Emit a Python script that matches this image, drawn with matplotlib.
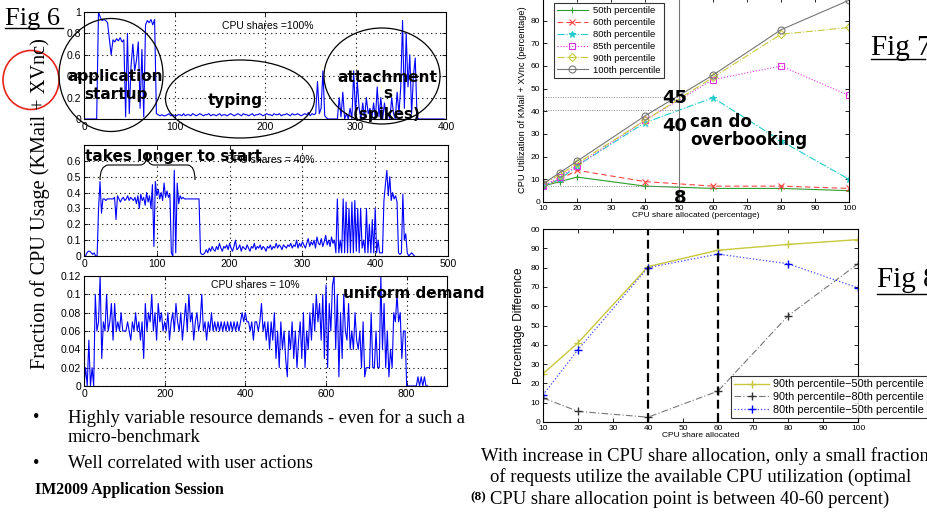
import numpy as np
import matplotlib
matplotlib.use('Agg')
import matplotlib.pyplot as plt
from matplotlib.patches import Ellipse, PathPatch
from matplotlib.path import Path
from matplotlib.lines import Line2D

# ---------------- DATA ----------------
# Fig 6 top: CPU shares = 100%  (sample every 2 s)
cpu100_step = 2
cpu100 = ([0, 0, 0, 0, 0, 0, 0, 0] +
          [1.0, 0.95, 0.92, 0.93, 0.92, 0.9, 0.75, 0.6, 0.74, 0.72, 0.75, 0.73, 0.76, 0.72, 0.74,
           0.02, 0.8, 0.05, 0.5, 0.7, 0.45, 0.55, 0.72, 0.1, 0.65, 0.02, 0.88, 0.92, 0.9, 0.93,
           0.88, 0.93, 0.05] +
          [0.04, 0.03, 0.04, 0.03, 0.03, 0.04, 0.05, 0.03, 0.04, 0.03,
           0.03, 0.04, 0.04, 0.03, 0.05, 0.03, 0.04, 0.04, 0.03, 0.05,
           0.04, 0.03, 0.04, 0.05, 0.04, 0.03, 0.04, 0.04, 0.05, 0.03,
           0.04, 0.04, 0.03, 0.04, 0.05, 0.03, 0.04, 0.04, 0.03, 0.04,
           0.05, 0.04, 0.03, 0.04, 0.05, 0.04, 0.03, 0.05, 0.04, 0.04,
           0.03, 0.04, 0.05, 0.03, 0.04, 0.04, 0.05, 0.04, 0.03, 0.04,
           0.05, 0.04, 0.04, 0.03, 0.05, 0.04, 0.04, 0.05, 0.03, 0.04,
           0.04, 0.05, 0.04, 0.03, 0.05, 0.04, 0.04, 0.05, 0.04, 0.03,
           0.04, 0.05, 0.04, 0.06, 0.03, 0.05, 0.04] +
          [0.05, 0.35, 0.05, 0.1, 0.45, 0.03, 0.01, 0, 0, 0, 0, 0, 0, 0.2, 0.02, 0.25, 0, 0.05,
           0, 0.1, 0, 0.45, 0.05, 0.35, 0.1, 0, 0.15, 0, 0.2, 0.05, 0.1, 0, 0.15, 0, 0.3, 0.02,
           0.2, 0, 0.15, 0, 0.05, 0, 0.2, 0.05, 0, 0.25, 0.05, 0.3, 0.92, 0.1, 0.8, 0.3, 0.6,
           0.05, 0.4, 0.57, 0.02] +
          [0] * 15)

# Fig 6 middle: CPU shares = 40%  (sample every 2 s)
cpu40_step = 2
cpu40 = ([0, 0, 0.02, 0.03, 0.03, 0.02, 0.01, 0.02, 0, 0] +
         [0.3, 0.47, 0.27, 0.36, 0.36, 0.35, 0.36, 0.36, 0.36, 0.36,
          0.36, 0.37, 0.23, 0.38, 0.36, 0.34, 0.36, 0.37, 0.35, 0.36,
          0.38, 0.35, 0.37, 0.36, 0.35, 0.37, 0.33, 0.38, 0.3, 0.39,
          0.35, 0.37, 0.32, 0.4, 0.34, 0.38, 0.3, 0.45] +
         [0.06, 0.47, 0.38, 0.42, 0.36, 0.4, 0.35, 0.46, 0.37, 0.41,
          0.37, 0.39, 0.02, 0.0, 0.54, 0.02, 0.46, 0.33, 0.38, 0.36,
          0.37, 0.36, 0.36, 0.36, 0.36, 0.36, 0.36, 0.36, 0.36, 0.36, 0.36, 0.36] +
         [0.02, 0.01, 0.01, 0.02, 0.04, 0.02, 0.05, 0.03, 0.06, 0.04,
          0.03, 0.06, 0.04, 0.08, 0.05, 0.03, 0.06, 0.05, 0.07, 0.04,
          0.08, 0.05, 0.03, 0.06, 0.1, 0.04, 0.05, 0.07, 0.03, 0.06,
          0.05, 0.04, 0.07, 0.05, 0.03, 0.06, 0.05, 0.08, 0.04, 0.06,
          0.05, 0.07, 0.04, 0.06, 0.05, 0.03, 0.06, 0.05, 0.07, 0.04,
          0.06, 0.05, 0.08, 0.05, 0.07, 0.06, 0.04, 0.07, 0.06, 0.05,
          0.07, 0.06, 0.08, 0.05, 0.07, 0.06, 0.1, 0.05, 0.08, 0.06,
          0.09, 0.07, 0.05, 0.08, 0.11, 0.06, 0.09, 0.07, 0.1, 0.05,
          0.12, 0.08, 0.07, 0.11, 0.06, 0.09, 0.13, 0.07, 0.1, 0.06,
          0.12, 0.08, 0.1] +
         [0.02, 0.36, 0.02, 0.1, 0.02, 0.36, 0.02, 0.34, 0.02, 0.3,
          0.02, 0.34, 0.02, 0.35, 0.03, 0.3, 0.02, 0.3, 0.05, 0.1,
          0.02, 0.3, 0.02, 0.2, 0.02, 0.23, 0.02, 0.3, 0.02, 0.1,
          0.02, 0.02, 0.02, 0.35, 0.45, 0.54, 0.38, 0.5, 0.35, 0.4,
          0.36, 0.38, 0.34, 0.02, 0.01, 0.02, 0.39, 0.1, 0.14, 0.02,
          0.0, 0.01, 0.02, 0.01, 0.0])

# Fig 6 bottom: CPU shares = 10%  (sample every 4 s)
cpu10_step = 4
cpu10 = [0, 0.02, 0, 0.05, 0, 0.02, 0, 0.1, 0.06, 0.07,
         0.12, 0.03, 0.07, 0.06, 0.1, 0.06, 0.07, 0.09, 0.05, 0.09,
         0.06, 0.07, 0.06, 0.08, 0.06, 0.06, 0.06, 0.07, 0.06, 0.05,
         0.07, 0.06, 0.08, 0.06, 0.07, 0.05, 0.07, 0.03, 0.09, 0.06,
         0.08, 0.07, 0.1, 0.06, 0.08, 0.05, 0.09, 0.07, 0.08, 0.06,
         0.07, 0.06, 0.08, 0.05, 0.07, 0.08, 0.06, 0.09, 0.07, 0.06,
         0.08, 0.05, 0.07, 0.09, 0.06, 0.1, 0.07, 0.08, 0.05, 0.07,
         0.08, 0.06, 0.07, 0.1, 0.06, 0.07, 0.05, 0.07, 0.06, 0.08,
         0.06, 0.07, 0.06, 0.07, 0.06, 0.07, 0.06, 0.07, 0.06, 0.07,
         0.06, 0.07, 0.06, 0.07, 0.06, 0.07, 0.06, 0.07, 0.08, 0.07,
         0.08, 0.07, 0.07, 0.06, 0.07, 0.05, 0.07, 0.07, 0.06, 0.07,
         0.09, 0.06, 0.07, 0.05, 0.07, 0.04, 0.07, 0.05, 0.08, 0.03,
         0.06, 0.02, 0.07, 0.04, 0.06, 0.03, 0.01, 0.06, 0.04, 0.07,
         0.03, 0.06, 0.02, 0.05, 0.07, 0.03, 0.08, 0.02, 0.06, 0.04,
         0.08, 0.05, 0.09, 0.06, 0.1, 0.07, 0.09, 0.05, 0.1, 0.03,
         0.11, 0.02, 0.09, 0.06, 0.11, 0.12, 0.04, 0.1, 0.01, 0.08,
         0.03, 0.1, 0.06, 0.05, 0.09, 0.04, 0.06, 0.04, 0.08, 0.05,
         0.04, 0.06, 0.02, 0.07, 0.01, 0.02, 0.02, 0.02, 0.08, 0.02,
         0.02, 0.06, 0.02, 0.02, 0.12, 0.04, 0.09, 0.02, 0.06, 0.01,
         0.04, 0.02, 0.08, 0.07, 0.1, 0.07, 0.08, 0.03, 0.06, 0.06,
         0, 0, 0, 0, 0, 0, 0, 0.01, 0, 0.01,
         0, 0.01, 0, 0]

# Fig 7: percentiles vs CPU share
share7 = [10, 15, 20, 40, 60, 80, 100]
p50 = [7, 9, 11, 7, 6, 6, 5]
p60 = [7, 10, 14, 9, 7, 7, 6]
p80 = [7, 10, 16, 35, 46, 27, 10]
p85 = [7, 11, 16, 36, 54, 60, 47]
p90 = [8, 12, 17, 36, 55, 74, 77]
p100 = [8, 13, 18, 38, 56, 76, 89]
labels7 = ['50th percentile', '60th percentile', '80th percentile',
           '85th percentile', '90th percentile', '100th percentile']
guide_levels7 = [46.5, 40.5, 7]
guide_share7 = 50

# Fig 8: percentage differences
share8 = [10, 20, 40, 60, 80, 100]
d90_50 = [25, 41, 80.5, 89, 92, 94.5]
d90_80 = [12.5, 5.5, 2.5, 16, 55, 82]
d80_50 = [14, 37.5, 80, 87, 82, 69.5]
labels8 = ['90th percentile\u221250th percentile',
           '90th percentile\u221280th percentile',
           '80th percentile\u221250th percentile']
optimal_range8 = [40, 60]
yticks8 = [0, 10, 20, 30, 40, 50, 60, 70, 80, 90, 100]
yticklabels8 = ['0', '10', '20', '30', '40', '50', '60', '70', '80', '90', '00']

# ---------------- LAYOUT ----------------
W, H = 927, 519
fig = plt.figure(figsize=(W / 100, H / 100), dpi=100)
fig.patch.set_facecolor('white')
SANS = 'Liberation Sans'
SERIF = 'Liberation Serif'
BOLD = 'DejaVu Sans'


def px_axes(l, t, r, b, **kw):
    return fig.add_axes([l / W, 1 - b / H, (r - l) / W, (b - t) / H], **kw)


def style_matlab(ax, size=7):
    for s in ax.spines.values():
        s.set_linewidth(0.8)
        s.set_color('black')
    ax.tick_params(direction='in', top=True, right=True, labelsize=size,
                   length=3, width=0.6, pad=2)
    for lab in ax.get_xticklabels() + ax.get_yticklabels():
        lab.set_fontfamily(SANS)


def grid_dotted(ax):
    ax.grid(True, linestyle=(0, (1, 3)), color='black', linewidth=0.8)


# Fig 6 panels
ax1 = px_axes(84, 12, 446, 119)
ax1.plot(np.arange(len(cpu100)) * cpu100_step, cpu100, color='#0000ff', lw=0.8)
ax1.set_xlim(0, 400)
ax1.set_ylim(0, 1)
ax1.set_xticks([0, 100, 200, 300, 400])
ax1.set_yticks([0, 0.2, 0.4, 0.6, 0.8, 1])
ax1.set_yticklabels(['0', '0.2', '0.4', '0.6', '0.8', '1'])
grid_dotted(ax1)
style_matlab(ax1, size=7.5)

ax2 = px_axes(84, 145, 448, 256)
ax2.plot(np.arange(len(cpu40)) * cpu40_step, cpu40, color='#0000ff', lw=0.8)
ax2.set_xlim(0, 500)
ax2.set_ylim(0, 0.7)
ax2.set_xticks([0, 100, 200, 300, 400, 500])
ax2.set_yticks([0, 0.1, 0.2, 0.3, 0.4, 0.5, 0.6])
ax2.set_yticklabels(['0', '0.1', '0.2', '0.3', '0.4', '0.5', '0.6'])
grid_dotted(ax2)
style_matlab(ax2, size=7.5)

ax3 = px_axes(84, 276, 447, 386)
ax3.plot(np.arange(len(cpu10)) * cpu10_step, cpu10, color='#0000ff', lw=0.8)
ax3.set_xlim(0, 900)
ax3.set_ylim(0, 0.12)
ax3.set_xticks([0, 200, 400, 600, 800])
ax3.set_yticks([0, 0.02, 0.04, 0.06, 0.08, 0.1, 0.12])
ax3.set_yticklabels(['0', '0.02', '0.04', '0.06', '0.08', '0.1', '0.12'])
grid_dotted(ax3)
style_matlab(ax3, size=7.5)

# Fig 7
ax7 = px_axes(543, -2, 849, 202)
styles7 = [
    dict(color='#2e9e2e', ls='-', marker='+', ms=5),
    dict(color='#ff4444', ls=(0, (5, 3)), marker='x', ms=4),
    dict(color='#22cccc', ls='-.', marker='*', ms=5),
    dict(color='#dd33dd', ls=':', marker='s', ms=4.5, mfc='none'),
    dict(color='#c8c83c', ls='-.', marker='D', ms=4.5, mfc='none'),
    dict(color='#777777', ls='-', marker='o', ms=5, mfc='none'),
]
for ys, lab, st in zip([p50, p60, p80, p85, p90, p100], labels7, styles7):
    ax7.plot(share7, ys, label=lab, lw=0.8, mew=0.8, **st)
ax7.axvline(guide_share7, color='#777777', lw=0.8)
ax7.hlines(guide_levels7, 10, guide_share7, colors='#888888', linestyles=(0, (1, 1.5)), lw=0.7)
ax7.set_xlim(10, 100)
ax7.set_ylim(0, 90)
ax7.set_xticks(range(10, 101, 10))
ax7.set_yticks(range(0, 91, 10))
style_matlab(ax7, size=6)
ax7.set_xlabel('CPU share allocated (percentage)', fontsize=6, family=SANS, labelpad=0)
ax7.set_ylabel('CPU Utilization of KMail + XVnc (percentage)', fontsize=6.7, family=SANS,
               labelpad=3)
leg7 = ax7.legend(loc='upper left', bbox_to_anchor=(0.036, 0.975),
                  prop={'family': SANS, 'size': 6.8}, frameon=True, fancybox=False,
                  edgecolor='black', handlelength=3.2, borderpad=0.35, labelspacing=0.3,
                  handletextpad=0.6, borderaxespad=0)
leg7.get_frame().set_linewidth(0.8)

# Fig 8
ax8 = px_axes(543, 229, 858, 422)
ax8.plot(share8, d90_50, color='#c8c83c', ls='-', marker='+', ms=6, lw=1.0, label=labels8[0])
ax8.plot(share8, d90_80, color='#777777', ls=(0, (6, 2, 1, 2)), marker='+', ms=6, lw=0.8,
         mec='#333333', label=labels8[1])
ax8.plot(share8, d80_50, color='#4444ff', ls=':', marker='+', ms=6, lw=0.9,
         mec='#0000ff', label=labels8[2])
for xv in optimal_range8:
    ax8.axvline(xv, color='black', ls=(0, (4, 2)), lw=1.6)
ax8.set_xlim(10, 100)
ax8.set_ylim(0, 100)
ax8.set_xticks(range(10, 101, 10))
ax8.set_yticks(yticks8)
ax8.set_yticklabels(yticklabels8)
style_matlab(ax8, size=6)
ax8.set_xlabel('CPU share allocated', fontsize=6, family=SANS, labelpad=0)
ax8.set_ylabel('Percentage Difference', fontsize=8.5, family=SANS, labelpad=4)
leg8 = ax8.legend(loc='lower left', bbox_to_anchor=(0.597, 0.02),
                  prop={'family': SANS, 'size': 7.8},
                  frameon=True, fancybox=False, edgecolor='black', handlelength=3.2,
                  borderpad=0.3, labelspacing=0.25, handletextpad=0.4, borderaxespad=0)
leg8.get_frame().set_linewidth(0.8)
leg8.set_clip_on(False)

# ---------------- OVERLAY (annotations in pixel space) ----------------
ov = fig.add_axes([0, 0, 1, 1], zorder=20)
ov.set_xlim(0, W)
ov.set_ylim(H, 0)
ov.axis('off')
ov.patch.set_alpha(0)


def T(x, y, s, **kw):
    ov.text(x, y, s, **kw)


def underline(x0, x1, y, lw=1.0):
    ov.add_line(Line2D([x0, x1], [y, y], color='black', lw=lw))


# Fig titles
T(5, 25, 'Fig 6', family=SERIF, fontsize=19, va='baseline', ha='left')
underline(5, 63, 28)
T(871, 55, 'Fig 7', family=SERIF, fontsize=21, va='baseline', ha='left')
underline(871, 925, 59)
T(877, 287, 'Fig 8', family=SERIF, fontsize=21, va='baseline', ha='left')
underline(877, 927, 294)

# Fig 6 y label
T(40, 204, 'Fraction of CPU Usage (KMail + XVnc)', family=SERIF, fontsize=14.6,
  rotation=90, ha='center', va='center')
ov.add_patch(Ellipse((31, 80), 56, 59, fill=False, edgecolor='#e8241c', lw=1.2))

# CPU share labels
T(268, 26, 'CPU shares =100%', family=SANS, fontsize=7.5, ha='center', va='center')
T(270, 160, 'CPU shares = 40%', family=SANS, fontsize=7.5, ha='center', va='center')
T(255, 285, 'CPU shares = 10%', family=SANS, fontsize=7.5, ha='center', va='center')

# Ellipses
for (cx, cy, ew, eh) in [(111, 75, 104, 113), (240, 99, 149, 78), (382, 76, 116, 96)]:
    ov.add_patch(Ellipse((cx, cy), ew, eh, fill=False, edgecolor='black', lw=0.9))

bkw = dict(family=BOLD, fontweight='bold', fontsize=11, ha='center', va='center')
T(115, 77, 'application', **bkw)
T(116, 94, 'startup', **bkw)
T(235, 100, 'typing', **bkw)
T(387, 77, 'attachment', **bkw)
T(388, 94, 's', **bkw)
T(387, 115, '(spikes)', **bkw)
T(85, 156, 'takes longer to start', family=BOLD, fontweight='bold', fontsize=11,
  ha='left', va='center')
T(343, 293, 'uniform demand', family=BOLD, fontweight='bold', fontsize=11,
  ha='left', va='center')

# Brace
brace = Path([(100, 180), (100, 166), (108, 165), (120, 165), (140, 165), (147, 165),
              (147, 154), (147, 165), (154, 165), (175, 165), (188, 165), (195, 166), (195, 180)],
             [Path.MOVETO, Path.CURVE3, Path.CURVE3, Path.LINETO, Path.LINETO, Path.CURVE3,
              Path.CURVE3, Path.CURVE3, Path.CURVE3, Path.LINETO, Path.LINETO, Path.CURVE3,
              Path.CURVE3])
ov.add_patch(PathPatch(brace, fill=False, edgecolor='black', lw=0.8))

# Fig 7 annotations
T(675, 98, '45', family=BOLD, fontweight='bold', fontsize=13, ha='center', va='center')
T(675, 126, '40', family=BOLD, fontweight='bold', fontsize=13, ha='center', va='center')
T(690, 122, 'can do', family=BOLD, fontweight='bold', fontsize=12, ha='left', va='center')
T(690, 140, 'overbooking', family=BOLD, fontweight='bold', fontsize=12, ha='left', va='center')
T(680, 198, '8', family=BOLD, fontweight='bold', fontsize=13, ha='center', va='center')

# Bullets and captions
skw = dict(family=SERIF, fontsize=13.4, ha='left', va='center')
T(33, 418, '\u2022', **skw)
T(68, 418, 'Highly variable resource demands - even for a such a', **skw)
T(68, 438, 'micro-benchmark', **skw)
T(33, 463, '\u2022', **skw)
T(68, 463, 'Well correlated with user actions', **skw)
T(35, 490, 'IM2009 Application Session', family=SERIF, fontweight='bold', fontsize=11.4,
  ha='left', va='center')

T(481, 456, 'With increase in CPU share allocation, only a small fraction', **skw)
T(490, 477, 'of requests utilize the available CPU utilization (optimal', **skw)
T(470, 497, '(8)', family=SERIF, fontweight='bold', fontsize=9.5, ha='left', va='center')
T(490, 499, 'CPU share allocation point is between 40-60 percent)', **skw)

fig.savefig('out.png', dpi=100, facecolor='white')
